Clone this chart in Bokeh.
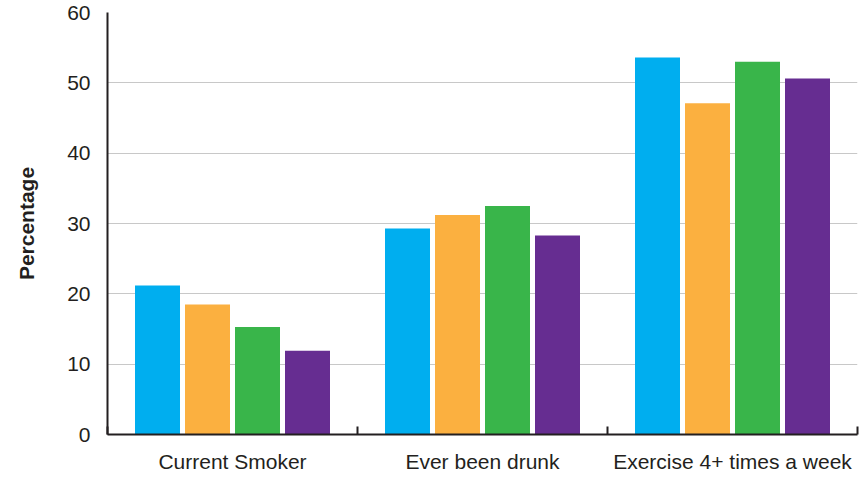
from bokeh.plotting import figure
from bokeh.models import ColumnDataSource, Range1d, FixedTicker
from bokeh.embed import file_html
from bokeh.resources import INLINE

# ---- data ----
categories = ["Current Smoker", "Ever been drunk", "Exercise 4+ times a week"]
series_names = ["Series 1", "Series 2", "Series 3", "Series 4"]
series_1 = [21.2, 29.3, 53.6]
series_2 = [18.5, 31.2, 47.1]
series_3 = [15.3, 32.5, 53.0]
series_4 = [11.9, 28.3, 50.6]
series_values = [series_1, series_2, series_3, series_4]
colors = ["#00AEEF", "#FBB040", "#39B54A", "#662D91"]
y_ticks = [0, 10, 20, 30, 40, 50, 60]

FONT = "Liberation Sans"
DARK = "#231F20"

p = figure(width=861, height=482, output_backend="svg", toolbar_location=None,
           x_range=Range1d(0, len(categories)), y_range=Range1d(0, 60),
           min_border_left=107, min_border_right=4, min_border_top=12,
           min_border_bottom=48)
p.outline_line_color = None
p.background_fill_color = "white"
p.border_fill_color = "white"

offsets = [0.2, 0.4, 0.6, 0.8]
bar_w = 0.18
for name, vals, col, off in zip(series_names, series_values, colors, offsets):
    src = ColumnDataSource(dict(x=[i + off for i in range(len(categories))], top=vals))
    p.vbar(x="x", top="top", bottom=0, width=bar_w, source=src,
           fill_color=col, line_color=None)

# x axis
xa = p.xaxis[0]
xa.ticker = FixedTicker(ticks=[i + 0.5 for i in range(len(categories))],
                        minor_ticks=[i for i in range(len(categories) + 1)])
xa.major_label_overrides = {i + 0.5: c for i, c in enumerate(categories)}
xa.major_tick_in = 0
xa.major_tick_out = 0
xa.minor_tick_in = 8
xa.minor_tick_out = 0
xa.minor_tick_line_color = DARK
xa.minor_tick_line_width = 2
xa.axis_line_color = DARK
xa.axis_line_width = 2
xa.major_label_text_font = FONT
xa.major_label_text_font_size = "21px"
xa.major_label_text_color = DARK
xa.major_label_standoff = 15

# y axis
ya = p.yaxis[0]
ya.ticker = FixedTicker(ticks=y_ticks)
ya.major_tick_in = 0
ya.major_tick_out = 0
ya.minor_tick_line_color = None
ya.axis_line_color = DARK
ya.axis_line_width = 2
ya.major_label_text_font = FONT
ya.major_label_text_font_size = "21px"
ya.major_label_text_color = DARK
ya.major_label_standoff = 17
ya.axis_label = "Percentage"
ya.axis_label_text_font = FONT
ya.axis_label_text_font_size = "21px"
ya.axis_label_text_font_style = "bold"
ya.axis_label_text_color = DARK
ya.axis_label_standoff = 26

p.xgrid.grid_line_color = None
p.ygrid.grid_line_color = "#C8C8C8"
p.ygrid.grid_line_width = 1

open("out.html", "w").write(file_html(p, INLINE))
